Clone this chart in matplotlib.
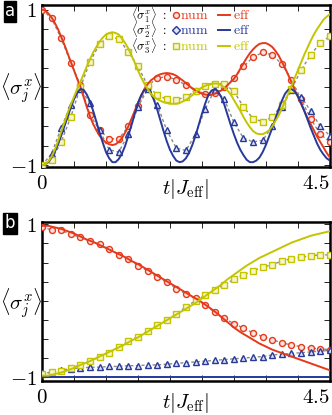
import numpy as np
import matplotlib
matplotlib.use('Agg')
import matplotlib.pyplot as plt

plt.rcParams['mathtext.fontset'] = 'cm'
plt.rcParams['font.family'] = 'serif'
plt.rcParams['font.serif'] = ['DejaVu Serif']

red = '#e5391b'
blue = '#27399a'
yellow = '#c4c400'
gray = '#8a8a8a'

# time grids
t_eff_a = np.round(np.arange(0, 4.501, 0.05), 2)
t_eff_b = np.round(np.arange(0, 4.501, 0.1), 2)
t_num = np.round(np.arange(0, 4.501, 0.15), 2)

# ---- panel a ----
a_eff_1 = [1.00, 0.99, 0.95, 0.90, 0.83, 0.75, 0.65, 0.55, 0.44, 0.33,
           0.22, 0.11, 0.01, -0.12, -0.25, -0.37, -0.47, -0.55, -0.62, -0.67,
           -0.71, -0.73, -0.74, -0.73, -0.70, -0.65, -0.58, -0.50, -0.40, -0.30,
           -0.20, -0.11, -0.02, 0.04, 0.09, 0.12, 0.15, 0.17, 0.18, 0.185,
           0.18, 0.17, 0.15, 0.12, 0.09, 0.055, 0.02, -0.01, -0.04, -0.06,
           -0.08, -0.09, -0.10, -0.095, -0.08, -0.06, -0.04, -0.01, 0.03, 0.07,
           0.11, 0.17, 0.24, 0.31, 0.38, 0.44, 0.49, 0.53, 0.56, 0.57,
           0.57, 0.55, 0.52, 0.47, 0.41, 0.33, 0.25, 0.16, 0.07, -0.03,
           -0.12, -0.21, -0.30, -0.39, -0.47, -0.55, -0.63, -0.70, -0.77, -0.84,
           -0.90]
a_eff_2 = [-1.00, -0.99, -0.96, -0.90, -0.83, -0.73, -0.62, -0.50, -0.38, -0.26,
           -0.15, -0.07, -0.02, -0.03, -0.09, -0.18, -0.30, -0.44, -0.58, -0.71,
           -0.83, -0.91, -0.96, -0.96, -0.92, -0.85, -0.75, -0.62, -0.48, -0.34,
           -0.20, -0.10, -0.03, -0.02, -0.07, -0.16, -0.28, -0.42, -0.56, -0.69,
           -0.80, -0.88, -0.94, -0.96, -0.95, -0.91, -0.84, -0.74, -0.62, -0.48,
           -0.34, -0.21, -0.10, -0.04, -0.02, -0.05, -0.12, -0.22, -0.35, -0.48,
           -0.60, -0.71, -0.80, -0.87, -0.93, -0.96, -0.96, -0.94, -0.90, -0.83,
           -0.74, -0.63, -0.52, -0.40, -0.28, -0.17, -0.08, -0.03, -0.02, -0.05,
           -0.11, -0.20, -0.30, -0.41, -0.52, -0.62, -0.72, -0.80, -0.86, -0.91,
           -0.94]
a_eff_3 = [-1.00, -0.99, -0.95, -0.89, -0.80, -0.69, -0.57, -0.45, -0.33, -0.22,
           -0.12, -0.02, 0.07, 0.17, 0.27, 0.36, 0.45, 0.52, 0.59, 0.64,
           0.68, 0.70, 0.71, 0.70, 0.68, 0.63, 0.57, 0.50, 0.41, 0.32,
           0.22, 0.13, 0.05, -0.02, -0.08, -0.12, -0.15, -0.17, -0.19, -0.20,
           -0.21, -0.21, -0.21, -0.20, -0.18, -0.16, -0.13, -0.10, -0.06, -0.03,
           0.00, 0.02, 0.04, 0.05, 0.05, 0.05, 0.03, 0.00, -0.04, -0.09,
           -0.16, -0.23, -0.30, -0.38, -0.45, -0.51, -0.56, -0.59, -0.60, -0.60,
           -0.58, -0.55, -0.50, -0.43, -0.36, -0.27, -0.18, -0.08, 0.02, 0.12,
           0.22, 0.32, 0.42, 0.51, 0.60, 0.68, 0.75, 0.81, 0.87, 0.91,
           0.94]
a_num_1 = [1.00, 0.89, 0.63, 0.32, 0.03, -0.35, -0.55, -0.66, -0.66, -0.50,
           -0.24, 0.02, 0.12, 0.14, 0.10, 0.03, -0.04, -0.08, -0.07, 0.00,
           0.12, 0.27, 0.39, 0.45, 0.42, 0.30, 0.10, -0.15, -0.40, -0.60, -0.70]
a_num_2 = [-1.00, -0.85, -0.52, -0.22, -0.02, -0.20, -0.55, -0.80, -0.83, -0.60,
           -0.25, -0.02, -0.22, -0.55, -0.78, -0.81, -0.60, -0.28, -0.03, -0.15,
           -0.45, -0.65, -0.70, -0.68, -0.50, -0.25, -0.03, -0.12, -0.30, -0.50, -0.62]
a_num_3 = [-1.00, -0.93, -0.70, -0.38, 0.00, 0.33, 0.56, 0.66, 0.62, 0.46,
           0.27, 0.03, -0.10, -0.15, -0.16, -0.12, -0.05, 0.02, 0.05, 0.05,
           -0.05, -0.25, -0.40, -0.44, -0.38, -0.22, -0.02, 0.22, 0.42, 0.57, 0.66]

# ---- panel b ----
b_eff_1 = [0.98, 0.98, 0.96, 0.94, 0.91, 0.88, 0.84, 0.80, 0.77, 0.73,
           0.69, 0.65, 0.61, 0.57, 0.52, 0.48, 0.43, 0.38, 0.33, 0.28,
           0.23, 0.18, 0.13, 0.08, 0.03, -0.02, -0.08, -0.14, -0.21, -0.28,
           -0.35, -0.41, -0.46, -0.51, -0.56, -0.60, -0.64, -0.67, -0.70, -0.73,
           -0.76, -0.79, -0.82, -0.85, -0.88, -0.91]
b_eff_2 = [-1.00] * 46
b_eff_3 = [-0.98, -0.98, -0.96, -0.94, -0.91, -0.88, -0.84, -0.81, -0.77, -0.73,
           -0.69, -0.65, -0.61, -0.57, -0.52, -0.48, -0.43, -0.38, -0.33, -0.28,
           -0.23, -0.18, -0.13, -0.08, -0.03, 0.03, 0.09, 0.15, 0.21, 0.28,
           0.34, 0.40, 0.46, 0.51, 0.56, 0.60, 0.64, 0.68, 0.72, 0.76,
           0.79, 0.82, 0.85, 0.87, 0.89, 0.91]
b_num_1 = [0.96, 0.93, 0.92, 0.87, 0.83, 0.78, 0.74, 0.68, 0.60, 0.54,
           0.46, 0.39, 0.31, 0.24, 0.16, 0.09, 0.03, -0.06, -0.15, -0.23,
           -0.30, -0.36, -0.42, -0.47, -0.51, -0.55, -0.58, -0.60, -0.62, -0.63, -0.64]
b_num_2 = [-0.95, -0.94, -0.91, -0.89, -0.88, -0.87, -0.87, -0.86, -0.86, -0.85,
           -0.85, -0.84, -0.84, -0.83, -0.82, -0.81, -0.80, -0.79, -0.78, -0.77,
           -0.76, -0.75, -0.74, -0.73, -0.71, -0.70, -0.69, -0.68, -0.67, -0.66, -0.65]
b_num_3 = [-0.96, -0.93, -0.92, -0.88, -0.84, -0.79, -0.74, -0.68, -0.61, -0.53,
           -0.47, -0.40, -0.32, -0.25, -0.17, -0.08, 0.00, 0.07, 0.14, 0.21,
           0.28, 0.34, 0.39, 0.44, 0.47, 0.52, 0.55, 0.57, 0.59, 0.60, 0.60]

colors = [red, blue, yellow]
markers = ['o', '^', 's']
fills = ['#fbe3dc', '#dfe3f3', '#f4f4cf']

fig = plt.figure(figsize=(3.32, 4.15), dpi=100)
ax_a = fig.add_axes([0.1265, 0.598, 0.867, 0.39])
ax_b = fig.add_axes([0.1265, 0.082, 0.867, 0.383])

panels = [
    (ax_a, t_eff_a, [a_eff_1, a_eff_2, a_eff_3], [a_num_1, a_num_2, a_num_3], (-1.02, 1.06)),
    (ax_b, t_eff_b, [b_eff_1, b_eff_2, b_eff_3], [b_num_1, b_num_2, b_num_3], (-1.05, 1.03)),
]

for ax, t_eff, effs, nums, ylim in panels:
    for eff, num, c, m, fc in zip(effs, nums, colors, markers, fills):
        ax.plot(t_num, num, ls=(0, (2.2, 1.8)), color=gray, lw=1.0, zorder=2)
        ax.plot(t_num, num, ls='none', marker=m, ms=4.3, mew=1.0, mec=c, mfc=fc, zorder=3)
        ax.plot(t_eff, eff, color=c, lw=1.4, zorder=4)
    ax.set_xlim(0, 4.5)
    ax.set_ylim(*ylim)
    ax.set_xticks(np.arange(0, 4.51, 0.5))
    ax.set_xticklabels(['$0$'] + [''] * 8 + ['$4.5$'])
    ax.set_yticks(np.arange(-1, 1.01, 0.25))
    ax.set_yticklabels(['$-1$'] + [''] * 7 + ['$1$'])
    ax.xaxis.get_majorticklabels()[-1].set_horizontalalignment('right')
    ax.tick_params(direction='in', top=True, right=True, length=4, width=0.6,
                   labelsize=15, pad=4)
    ax.tick_params(axis='x', pad=5)
    for s in ax.spines.values():
        s.set_linewidth(1.8)
    ax.set_xlabel(r'$t|J_{\mathrm{eff}}|$', fontsize=15)
    ax.xaxis.set_label_coords(0.5, -0.06)
    ax.set_ylabel(r'$\langle\sigma_j^x\rangle$', fontsize=15, rotation=0,
                  ha='center', va='center')
    ax.yaxis.set_label_coords(-0.072, 0.49)

# legend in panel a
rows = [r'$\langle\sigma_1^x\rangle\ :$', r'$\langle\sigma_2^x\rangle\ :$', r'$\langle\sigma_3^x\rangle\ :$']
leg_markers = ['o', 'D', 's']
for i, (lab, c, m, fc) in enumerate(zip(rows, colors, leg_markers, fills)):
    yy = 0.937 - i * 0.094
    ax_a.text(0.435, yy, lab, transform=ax_a.transAxes, ha='right', va='center', fontsize=9)
    ax_a.plot([0.465], [yy], transform=ax_a.transAxes, marker=m, ms=4.3 if m != 'D' else 3.6,
              mew=1.0, mec=c, mfc=fc, clip_on=False)
    ax_a.text(0.478, yy, r'$\mathrm{num}$', transform=ax_a.transAxes, ha='left', va='center',
              fontsize=10, color=c)
    ax_a.plot([0.612, 0.652], [yy, yy], transform=ax_a.transAxes, color=c, lw=1.4)
    ax_a.text(0.664, yy, r'$\mathrm{eff}$', transform=ax_a.transAxes, ha='left', va='center',
              fontsize=10, color=c)

# panel letters
for lab, yy in [('a', 0.973), ('b', 0.462)]:
    fig.text(0.03, yy, lab, ha='center', va='center', color='white', fontsize=12,
             family='DejaVu Sans',
             bbox=dict(boxstyle='square,pad=0.08', fc='black', ec='black'))

fig.savefig('out.png', dpi=100)
